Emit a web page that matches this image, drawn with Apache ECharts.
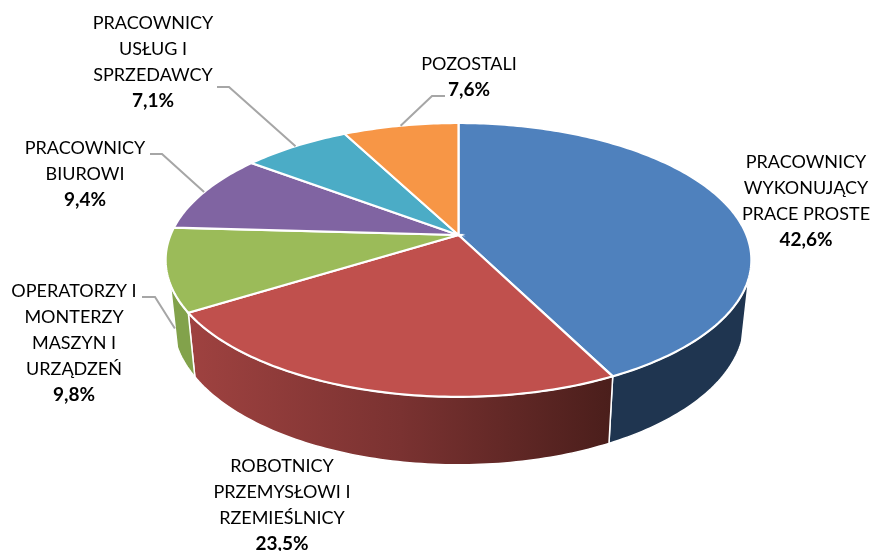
<!DOCTYPE html>
<html>
<head>
<meta charset="utf-8">
<style>
  html, body { margin: 0; padding: 0; background: #fff; }
  #chart { width: 871px; height: 551px; }
</style>
</head>
<body>
<div id="chart"></div>
<script src="https://cdn.jsdelivr.net/npm/echarts@6/dist/echarts.min.js"></script>
<script>
var categories = [
  "PRACOWNICY\nWYKONUJĄCY\nPRACE PROSTE",
  "ROBOTNICY\nPRZEMYSŁOWI I\nRZEMIEŚLNICY",
  "OPERATORZY I\nMONTERZY\nMASZYN I\nURZĄDZEŃ",
  "PRACOWNICY\nBIUROWI",
  "PRACOWNICY\nUSŁUG I\nSPRZEDAWCY",
  "POZOSTALI",
];
var values = [42.6, 23.5, 9.8, 9.4, 7.1, 7.6];

var topColors = ["#4f81bd", "#c0504d", "#9bbb59", "#8064a2", "#4bacc6", "#f79646"];
var wallColors = ["#1f3550", null, "#82a24b", null, null, null];

// label block: centre x, top y
var labelPos = [
  [806, 149],
  [282, 453],
  [74, 278],
  [85, 135],
  [153, 10],
  [469, 51],
];
// leader line: text side start, elbow (no line for the first two)
var leaderElbows = [
  null,
  null,
  [[142, 297], [155, 297]],
  [[150, 154], [162, 154]],
  [[217, 87], [229, 87]],
  [[445, 96], [432, 96]],
];

// the pie is tilted with perspective, so far side is squeezed
var cx = 458.5;
var cy = 235;
var rx = 288;
var ry = 132.4;
var persp = 0.182;
// bottom rim of the wall
var rx2 = 281;
var ry2 = 138.5;
var cy2 = 295.5;
// which part of the rim shows a wall (degrees clockwise from top)
var wallFrom = 108;
var wallTo = 249.5;

var total = values.reduce(function (a, b) { return a + b; }, 0);

function startAngle(idx) {
  var sum = 0;
  for (var i = 0; i < idx; i++) sum += values[i];
  return echarts.number.linearMap(sum, [0, total], [0, 360]);
}
function endAngle(idx) {
  return startAngle(idx) + echarts.number.linearMap(values[idx], [0, total], [0, 360]);
}

function rimPoint(deg, radX, radY, centerY) {
  var a = (deg * Math.PI) / 180;
  var u = Math.sin(a);
  var v = Math.cos(a);
  var w = 1 + persp * v;
  return [cx + (radX * u) / w, centerY - (radY * v) / w];
}

function arcPoints(from, to, radX, radY, centerY) {
  var pts = [];
  var steps = Math.max(2, Math.ceil(Math.abs(to - from)));
  for (var i = 0; i <= steps; i++) {
    pts.push(rimPoint(from + ((to - from) * i) / steps, radX, radY, centerY));
  }
  return pts;
}

function renderWall(params, api) {
  var idx = api.value(0);
  var from = Math.max(startAngle(idx), wallFrom);
  var to = Math.min(endAngle(idx), wallTo);
  if (to <= from) return null;
  var pts = arcPoints(from, to, rx, ry, cy).concat(arcPoints(to, from, rx2, ry2, cy2));
  var fill = wallColors[idx];
  if (idx === 1) {
    fill = new echarts.graphic.LinearGradient(0, 0, 1, 0, [
      { offset: 0, color: "#9f4240" },
      { offset: 0.5, color: "#7a3231" },
      { offset: 1, color: "#4a1e1b" },
    ]);
  }
  return {
    type: "polygon",
    shape: { points: pts },
    style: { fill: fill, stroke: "#fff", lineWidth: 1.5 },
  };
}

function renderTop(params, api) {
  var idx = api.value(0);
  var pts = [[cx, cy]].concat(arcPoints(startAngle(idx), endAngle(idx), rx, ry, cy));
  return {
    type: "polygon",
    shape: { points: pts },
    style: { fill: topColors[idx], stroke: "#fff", lineWidth: 2.2 },
  };
}

function renderLabel(params, api) {
  var idx = api.value(0);
  var pct = values[idx].toFixed(1).replace(".", ",") + "%";
  var names = categories[idx].split("\n").map(function (s) { return "{n|" + s + "}"; });
  var children = [
    {
      type: "text",
      style: {
        x: labelPos[idx][0],
        y: labelPos[idx][1],
        text: names.join("\n") + "\n{b|" + pct + "}",
        align: "center",
        verticalAlign: "top",
        rich: {
          n: { fontFamily: "Lato", fontSize: 18, lineHeight: 26, fill: "#000", align: "center" },
          b: { fontFamily: "Lato", fontSize: 19, fontWeight: "bold", lineHeight: 26, fill: "#000", align: "center" },
        },
      },
    },
  ];
  if (leaderElbows[idx]) {
    var mid = (startAngle(idx) + endAngle(idx)) / 2;
    var end = rimPoint(mid, rx, ry, cy);
    // this slice's label points at its wall, not at the top face
    if (idx === 2) {
      var a = rimPoint(wallTo - 5, rx, ry, cy);
      var b = rimPoint(wallTo - 5, rx2, ry2, cy2);
      end = [(a[0] + b[0]) / 2 - 5, (a[1] + b[1]) / 2];
    }
    children.push({
      type: "polyline",
      shape: { points: leaderElbows[idx].concat([end]) },
      style: { stroke: "#a6a6a6", lineWidth: 2, fill: null },
    });
  }
  return { type: "group", children: children };
}

var seriesData = values.map(function (v, i) { return [i, v]; });

var chart = echarts.init(document.getElementById("chart"));
chart.setOption({
  animation: false,
  backgroundColor: "#fff",
  series: [
    { type: "custom", coordinateSystem: "none", z: 1, data: seriesData, renderItem: renderWall, silent: true },
    { type: "custom", coordinateSystem: "none", z: 2, data: seriesData, renderItem: renderTop, silent: true },
    { type: "custom", coordinateSystem: "none", z: 3, data: seriesData, renderItem: renderLabel, silent: true },
  ],
});
</script>
</body>
</html>
